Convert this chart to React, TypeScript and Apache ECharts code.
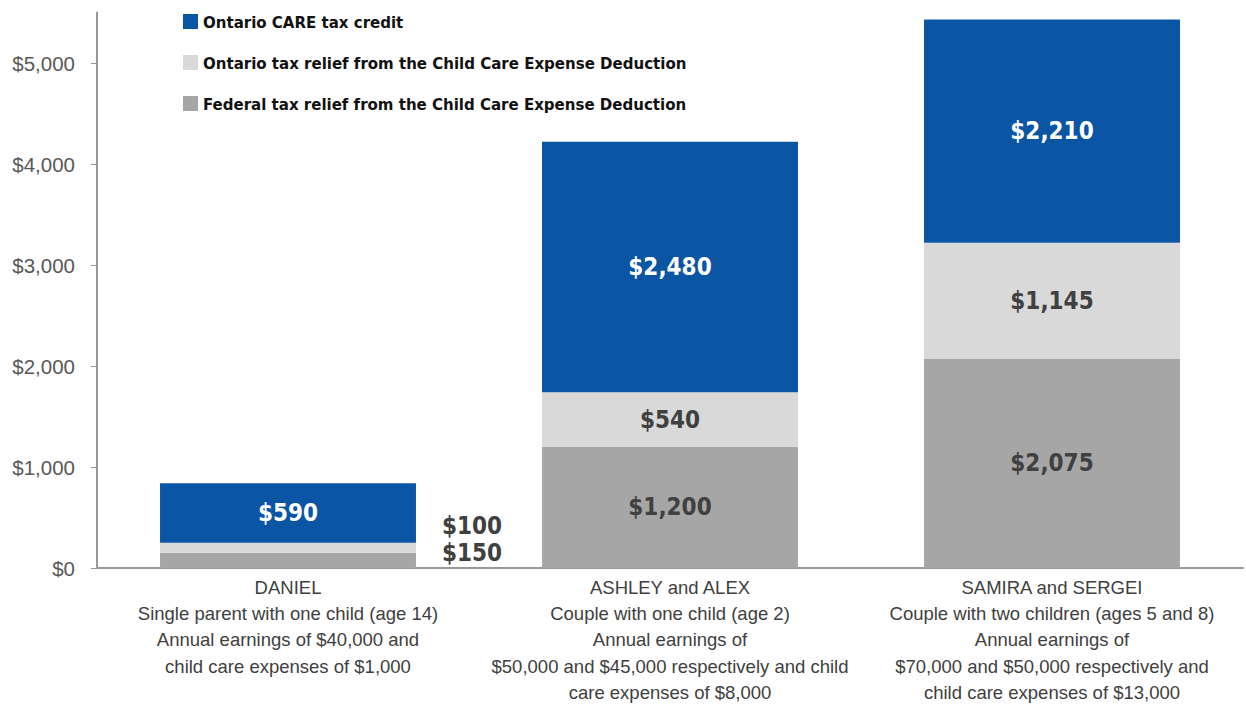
import React, { useEffect, useRef } from "react";
import * as echarts from "echarts";

const categories = [
  "DANIEL\nSingle parent with one child (age 14)\nAnnual earnings of $40,000 and\nchild care expenses of $1,000",
  "ASHLEY and ALEX\nCouple with one child (age 2)\nAnnual earnings of\n$50,000 and $45,000 respectively and child\ncare expenses of $8,000",
  "SAMIRA and SERGEI\nCouple with two children (ages 5 and 8)\nAnnual earnings of\n$70,000 and $50,000 respectively and\nchild care expenses of $13,000",
];
const federalRelief = [150, 1200, 2075];
const ontarioRelief = [100, 540, 1145];
const careCredit = [590, 2480, 2210];
const yTicks = [0, 1000, 2000, 3000, 4000, 5000];

const NARROW = "'Liberation Sans Narrow', 'DejaVu Sans Condensed', 'Arial Narrow', sans-serif";
const REG = "'Liberation Sans', Arial, sans-serif";

const fmt = (v: number) => "$" + v.toLocaleString("en-US");

export default function App() {
  const ref = useRef<HTMLDivElement>(null);
  useEffect(() => {
    if (!ref.current) return;
    const chart = echarts.init(ref.current, null, { renderer: "svg" });
    const insideLabel = (color: string) => ({
      show: true,
      position: "inside" as const,
      color,
      fontFamily: NARROW,
      fontWeight: "bold" as const,
      fontSize: 24,
      formatter: (p: any) => fmt(p.value as number),
    });
    const outsideLabel = (dy: number) => ({
      show: true,
      position: "right" as const,
      distance: 26,
      offset: [0, dy],
      color: "#404040",
      fontFamily: NARROW,
      fontWeight: "bold" as const,
      fontSize: 24,
      formatter: (p: any) => fmt(p.value as number),
    });
    chart.setOption({
      animation: false,
      backgroundColor: "#ffffff",
      grid: {
        left: 97,
        right: 3,
        top: 12.5,
        bottom: 137,
        containLabel: false,
        outerBoundsMode: "none",
      },
      legend: {
        orient: "vertical",
        left: 178,
        top: 8,
        itemWidth: 15,
        itemHeight: 15,
        itemGap: 24,
        icon: "rect",
        data: [
          "Ontario CARE tax credit",
          "Ontario tax relief from the Child Care Expense Deduction",
          "Federal tax relief from the Child Care Expense Deduction",
        ],
        textStyle: { fontFamily: NARROW, fontWeight: "bold", fontSize: 16.7, color: "#111111" },
      },
      xAxis: {
        type: "category",
        data: categories,
        axisLine: { lineStyle: { color: "#999999", width: 2 } },
        axisTick: { show: false },
        axisLabel: {
          interval: 0,
          margin: 6,
          color: "#404040",
          fontFamily: REG,
          fontSize: 18.5,
          lineHeight: 26.3,
        },
      },
      yAxis: {
        type: "value",
        min: 0,
        max: 5500,
        interval: 1000,
        splitLine: { show: false },
        axisLine: { show: true, lineStyle: { color: "#999999", width: 2 } },
        axisTick: { show: true, length: 6, lineStyle: { color: "#999999" }, customValues: yTicks },
        axisLabel: {
          customValues: yTicks,
          margin: 22,
          color: "#595959",
          fontFamily: REG,
          fontSize: 20.5,
          formatter: (v: number) => fmt(v),
        },
      },
      series: [
        {
          name: "Federal tax relief from the Child Care Expense Deduction",
          type: "bar",
          stack: "t",
          barWidth: "67%",
          itemStyle: { color: "#A6A6A6" },
          label: insideLabel("#404040"),
          data: federalRelief.map((v, i) =>
            i === 0 ? { value: v, label: outsideLabel(-7) } : v
          ),
        },
        {
          name: "Ontario tax relief from the Child Care Expense Deduction",
          type: "bar",
          stack: "t",
          itemStyle: { color: "#D9D9D9" },
          label: insideLabel("#404040"),
          data: ontarioRelief.map((v, i) =>
            i === 0 ? { value: v, label: outsideLabel(-22) } : v
          ),
        },
        {
          name: "Ontario CARE tax credit",
          type: "bar",
          stack: "t",
          itemStyle: { color: "#0B55A5" },
          label: insideLabel("#ffffff"),
          data: careCredit,
        },
      ],
    });
    return () => chart.dispose();
  }, []);
  return (
    <div
      ref={ref}
      style={{ position: "fixed", left: 0, top: 0, width: 1246, height: 705, background: "#fff" }}
    />
  );
}
